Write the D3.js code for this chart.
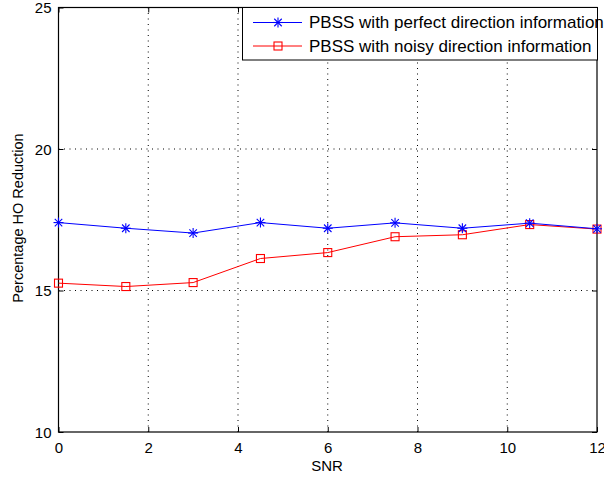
<!DOCTYPE html>
<html>
<head>
<meta charset="utf-8">
<script src="https://cdn.jsdelivr.net/npm/d3@7"></script>
<style>
  body { margin: 0; background: #fff; }
  svg { display: block; font-family: "Liberation Sans", Arial, Helvetica, sans-serif; }
</style>
</head>
<body>
<svg id="chart" width="604" height="480"></svg>
<script>
// SNR values (x) and the two series of percentage handover reduction
const snr = [0, 1.5, 3, 4.5, 6, 7.5, 9, 10.5, 12];
const perfectDir = [17.4, 17.2, 17.03, 17.4, 17.2, 17.39, 17.2, 17.38, 17.18];
const noisyDir = [15.26, 15.14, 15.28, 16.13, 16.34, 16.9, 16.97, 17.33, 17.17];
const xTicks = [0, 2, 4, 6, 8, 10, 12];
const yTicks = [10, 15, 20, 25];
const seriesNames = ["PBSS with perfect direction information", "PBSS with noisy direction information"];

const svg = d3.select("#chart");
const m = { left: 58.5, right: 597, top: 7.5, bottom: 432 };

const x = d3.scaleLinear().domain([0, 12]).range([m.left, m.right]);
const y = d3.scaleLinear().domain([10, 25]).range([m.bottom, m.top]);

// dotted grid
const grid = svg.append("g");
grid.selectAll(".gx").data(xTicks.slice(1, -1)).enter().append("line")
  .attr("x1", d => x(d)).attr("x2", d => x(d))
  .attr("y1", m.top).attr("y2", m.bottom)
  .attr("stroke", "#000").attr("stroke-width", 1).attr("stroke-dasharray", "1,4.5");
grid.selectAll(".gy").data(yTicks.slice(1, -1)).enter().append("line")
  .attr("y1", d => y(d)).attr("y2", d => y(d))
  .attr("x1", m.left).attr("x2", m.right)
  .attr("stroke", "#000").attr("stroke-width", 1).attr("stroke-dasharray", "1,4.5");

// axes with inward ticks
const tickLen = 5;
const axB = svg.append("g").attr("transform", `translate(0,${m.bottom})`)
  .call(d3.axisBottom(x).tickValues(xTicks).tickSizeInner(-tickLen).tickSizeOuter(0).tickPadding(10));
const axT = svg.append("g").attr("transform", `translate(0,${m.top})`)
  .call(d3.axisTop(x).tickValues(xTicks).tickSizeInner(-tickLen).tickSizeOuter(0).tickFormat(""));
const axL = svg.append("g").attr("transform", `translate(${m.left},0)`)
  .call(d3.axisLeft(y).tickValues(yTicks).tickSizeInner(-tickLen).tickSizeOuter(0).tickPadding(7));
const axR = svg.append("g").attr("transform", `translate(${m.right},0)`)
  .call(d3.axisRight(y).tickValues(yTicks).tickSizeInner(-tickLen).tickSizeOuter(0).tickFormat(""));
[axB, axT, axL, axR].forEach(a => {
  a.select(".domain").remove();
  a.selectAll("line").attr("stroke", "#000");
  a.selectAll("text").attr("font-size", 15).attr("fill", "#000")
    .attr("font-family", "'Liberation Sans', Arial, sans-serif");
});
axL.selectAll("text").attr("dy", "0.35em");

// plot box
svg.append("rect").attr("x", m.left).attr("y", m.top)
  .attr("width", m.right - m.left).attr("height", m.bottom - m.top)
  .attr("fill", "none").attr("stroke", "#000").attr("stroke-width", 1.2);

// axis titles
svg.append("text").attr("x", 327).attr("y", 471)
  .attr("text-anchor", "middle").attr("font-size", 15).text("SNR");
svg.append("text").attr("transform", `translate(23,218) rotate(-90)`)
  .attr("text-anchor", "middle").attr("font-size", 14.5).text("Percentage HO Reduction");

const line = d3.line().x((d, i) => x(snr[i])).y(d => y(d));

// star marker (asterisk)
function star(g, cx, cy, r, color) {
  const p = g.append("g").attr("stroke", color).attr("stroke-width", 1.1);
  p.append("line").attr("x1", cx - r).attr("x2", cx + r).attr("y1", cy).attr("y2", cy);
  p.append("line").attr("x1", cx).attr("x2", cx).attr("y1", cy - r).attr("y2", cy + r);
  const k = r * 0.75;
  p.append("line").attr("x1", cx - k).attr("x2", cx + k).attr("y1", cy - k).attr("y2", cy + k);
  p.append("line").attr("x1", cx - k).attr("x2", cx + k).attr("y1", cy + k).attr("y2", cy - k);
}
function square(g, cx, cy, s, color) {
  g.append("rect").attr("x", cx - s / 2).attr("y", cy - s / 2).attr("width", s).attr("height", s)
    .attr("fill", "none").attr("stroke", color).attr("stroke-width", 1.1);
}

// noisy series
const gN = svg.append("g");
gN.append("path").datum(noisyDir).attr("d", line).attr("fill", "none").attr("stroke", "#ff0000").attr("stroke-width", 1);
noisyDir.forEach((v, i) => square(gN, x(snr[i]), y(v), 8, "#ff0000"));

// perfect series
const gP = svg.append("g");
gP.append("path").datum(perfectDir).attr("d", line).attr("fill", "none").attr("stroke", "#0000ff").attr("stroke-width", 1);
perfectDir.forEach((v, i) => star(gP, x(snr[i]), y(v), 5, "#0000ff"));

// legend
const lg = svg.append("g");
lg.append("rect").attr("x", 242.5).attr("y", 7.5).attr("width", 355).attr("height", 52.5)
  .attr("fill", "#fff").attr("stroke", "#000").attr("stroke-width", 1);
const rows = [22.5, 46];
const colors = ["#0000ff", "#ff0000"];
rows.forEach((ry, i) => {
  lg.append("line").attr("x1", 253).attr("x2", 302).attr("y1", ry).attr("y2", ry)
    .attr("stroke", colors[i]).attr("stroke-width", 1);
  if (i === 0) star(lg, 278, ry, 5, colors[i]); else square(lg, 278, ry, 8, colors[i]);
  lg.append("text").attr("x", 309).attr("y", ry).attr("dy", "0.35em").attr("font-size", 17)
    .text(seriesNames[i]);
});
</script>
</body>
</html>
